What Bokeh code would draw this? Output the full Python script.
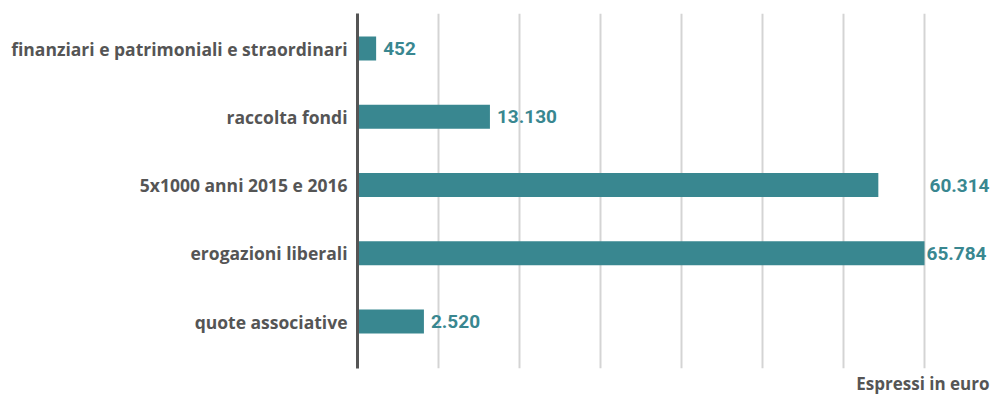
from bokeh.plotting import figure
from bokeh.models import Range1d, FixedTicker, Title, ColumnDataSource
from bokeh.core.properties import value
from bokeh.embed import file_html
from bokeh.resources import INLINE

# categories, bottom to top
categories = ["quote associative", "erogazioni liberali", "5x1000 anni 2015 e 2016",
              "raccolta fondi", "finanziari e patrimoniali e straordinari"]
# amounts in euro (labels)
amounts = [2520, 65784, 60314, 13130, 452]
# drawn bar extents (grid step = 10000)
bar_extent = [8200, 70000, 64300, 16350, 2300]
grid_ticks = [10000, 20000, 30000, 40000, 50000, 60000, 70000]
note = "Espressi in euro"

TEAL = "#398790"
GREY = "#555555"
LFONT = "Open Sans"
VFONT = "Roboto"

W, H = 991, 396
LEFT, TOP, BOTTOM = 357, 13, 28
px_per_step = 81.0
x_end = (W - LEFT) / px_per_step * grid_ticks[0]
row_px = 68.25
y_start = -47 / row_px
y_end = (len(categories) - 1) + 35 / row_px

p = figure(width=W, height=H, output_backend="svg", toolbar_location=None,
           x_range=Range1d(0, x_end), y_range=Range1d(y_start, y_end),
           min_border_left=LEFT, min_border_right=0, min_border_top=TOP,
           min_border_bottom=BOTTOM, outline_line_color=None)

ys = list(range(len(categories)))
labels = [f"{a:,}".replace(",", ".") for a in amounts]
far = categories.index("5x1000 anni 2015 e 2016")
top = categories.index("erogazioni liberali")

src = ColumnDataSource(dict(y=ys, right=bar_extent))
p.hbar(y="y", left=0, right="right", height=0.35, source=src,
       fill_color=TEAL, line_color=None)

def add_labels(idx, xs, offset, align):
    s = ColumnDataSource(dict(x=xs, y=[ys[i] for i in idx], t=[labels[i] for i in idx]))
    p.text(x="x", y="y", text="t", source=s, x_offset=offset,
           text_font=value(VFONT), text_font_style="bold", text_font_size="19px",
           text_color=TEAL, text_align=align, text_baseline="middle")

near_idx = [i for i in ys if i not in (far, top)]
add_labels(near_idx, [bar_extent[i] for i in near_idx], 7, "left")
add_labels([top], [bar_extent[top]], 2, "left")
add_labels([far], [x_end], -2, "right")

p.xaxis.visible = False
p.xgrid.ticker = FixedTicker(ticks=grid_ticks)
p.xgrid.grid_line_color = "#d4d4d4"
p.xgrid.grid_line_width = 2
p.ygrid.grid_line_color = None

ax = p.yaxis[0]
ax.ticker = FixedTicker(ticks=ys)
ax.major_label_overrides = {i: c for i, c in zip(ys, categories)}
ax.axis_line_color = GREY
ax.axis_line_width = 3
ax.major_tick_line_color = None
ax.minor_tick_line_color = None
ax.major_label_standoff = 4
ax.major_label_text_font = LFONT
ax.major_label_text_font_style = "bold"
ax.major_label_text_font_size = "17.5px"
ax.major_label_text_color = GREY

p.add_layout(Title(text=note, align="right", text_font=LFONT, text_font_style="bold",
                   text_font_size="17px", text_color=GREY, standoff=2, offset=2),
             "below")

open("out.html", "w").write(file_html(p, INLINE))
